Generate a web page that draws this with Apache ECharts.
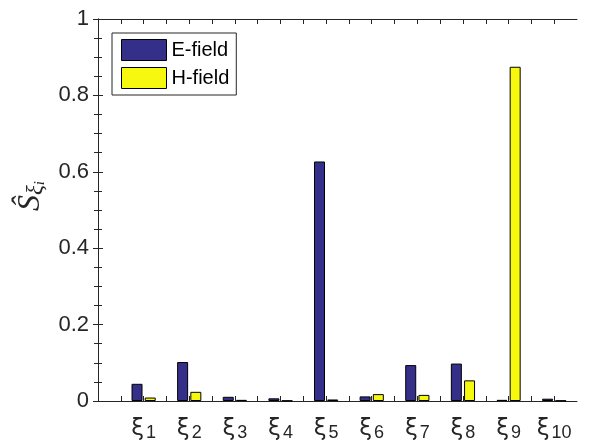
<!DOCTYPE html>
<html>
<head>
<meta charset="utf-8">
<script src="https://cdn.jsdelivr.net/npm/echarts@6/dist/echarts.min.js"></script>
<style>
html,body{margin:0;padding:0;background:#fff;}
#chart{width:589px;height:442px;}
</style>
</head>
<body>
<div id="chart"></div>
<script>
// Data
var categories = ['1','2','3','4','5','6','7','8','9','10'];
var eField = [0.045, 0.102, 0.011, 0.007, 0.627, 0.012, 0.094, 0.098, 0.003, 0.006];
var hField = [0.009, 0.024, 0.003, 0.001, 0.004, 0.018, 0.016, 0.054, 0.875, 0.001];
var yTicks = [0, 0.2, 0.4, 0.6, 0.8, 1];
var seriesNames = ['E-field', 'H-field'];

var xPos = categories.map(function (c, i) { return i + 1; });
var xTickVals = [];
for (var k = 1; k <= 20; k++) xTickVals.push(k * 0.5);

function pairs(vals) { return vals.map(function (v, i) { return [xPos[i], v]; }); }

var axisColor = '#262626';
var chart = echarts.init(document.getElementById('chart'), null, {renderer: 'canvas'});

function xAx(pos, showLabel) {
  return {
    type: 'value', position: pos, min: 0, max: 10.5,
    axisLine: {show: true, onZero: false, lineStyle: {color: axisColor, width: 1}},
    axisTick: {show: true, inside: true, length: 5, customValues: xTickVals, lineStyle: {color: axisColor}},
    splitLine: {show: false},
    axisLabel: {
      show: showLabel, margin: 17,
      customValues: xPos,
      formatter: function (v) { return '{x|ξ}{n|' + categories[Math.round(v) - 1] + '}'; },
      rich: {
        x: {fontFamily: 'DejaVu Sans', fontSize: 23, color: axisColor, lineHeight: 24, verticalAlign: 'top'},
        n: {fontFamily: 'Liberation Sans', fontSize: 18, color: axisColor, lineHeight: 24, verticalAlign: 'bottom', padding: [11, 0, 0, 2]}
      }
    }
  };
}
function yAx(pos, showLabel) {
  var o = {
    type: 'value', position: pos, min: 0, max: 1, interval: 0.2,
    axisLine: {show: true, lineStyle: {color: axisColor, width: 1}},
    axisTick: {show: true, inside: true, length: 5, lineStyle: {color: axisColor}},
    minorTick: {show: true, splitNumber: 4, length: 4, lineStyle: {color: axisColor}},
    splitLine: {show: false},
    axisLabel: {
      show: showLabel, margin: 9, fontFamily: 'Liberation Sans', fontSize: 22, color: axisColor,
      customValues: yTicks,
      formatter: function (v) { return String(+v.toFixed(1)); }
    }
  };
  if (showLabel) {
    o.name = '{s|Ŝ}{x|ξ}{i|i}';
    o.nameLocation = 'middle';
    o.nameRotate = 90;
    o.nameGap = 34;
    o.nameTextStyle = {
      padding: [0, 0, 0, 28],
      rich: {
        s: {fontFamily: 'Liberation Serif', fontStyle: 'italic', fontSize: 32, color: axisColor, lineHeight: 34},
        x: {fontFamily: 'Liberation Serif', fontStyle: 'italic', fontSize: 23, color: axisColor, verticalAlign: 'bottom', lineHeight: 22},
        i: {fontFamily: 'Liberation Serif', fontStyle: 'italic', fontSize: 15, color: axisColor, verticalAlign: 'bottom', lineHeight: 10}
      }
    };
  }
  return o;
}

var option = {
  animation: false,
  backgroundColor: '#ffffff',
  grid: {left: 98, top: 19, width: 479, height: 383},
  legend: {
    orient: 'vertical', left: 112, top: 33, icon: 'rect',
    padding: [6, 7, 6, 9], itemGap: 6, itemWidth: 45, itemHeight: 21,
    borderColor: '#262626', borderWidth: 1, backgroundColor: '#fff',
    textStyle: {fontFamily: 'Liberation Sans', fontSize: 20, color: '#000', padding: [0, 0, 0, 0]},
    itemStyle: {borderColor: '#000', borderWidth: 1},
    data: seriesNames
  },
  xAxis: [xAx('bottom', true), xAx('top', false)],
  yAxis: [yAx('left', true), yAx('right', false)],
  series: [
    {name: seriesNames[0], type: 'bar', data: pairs(eField), barWidth: 11, barGap: '20%',
     itemStyle: {color: '#34308a', borderColor: '#000', borderWidth: 1}},
    {name: seriesNames[1], type: 'bar', data: pairs(hField), barWidth: 11, barGap: '20%',
     itemStyle: {color: '#f7f80f', borderColor: '#000', borderWidth: 1}}
  ]
};
chart.setOption(option);
</script>
</body>
</html>
